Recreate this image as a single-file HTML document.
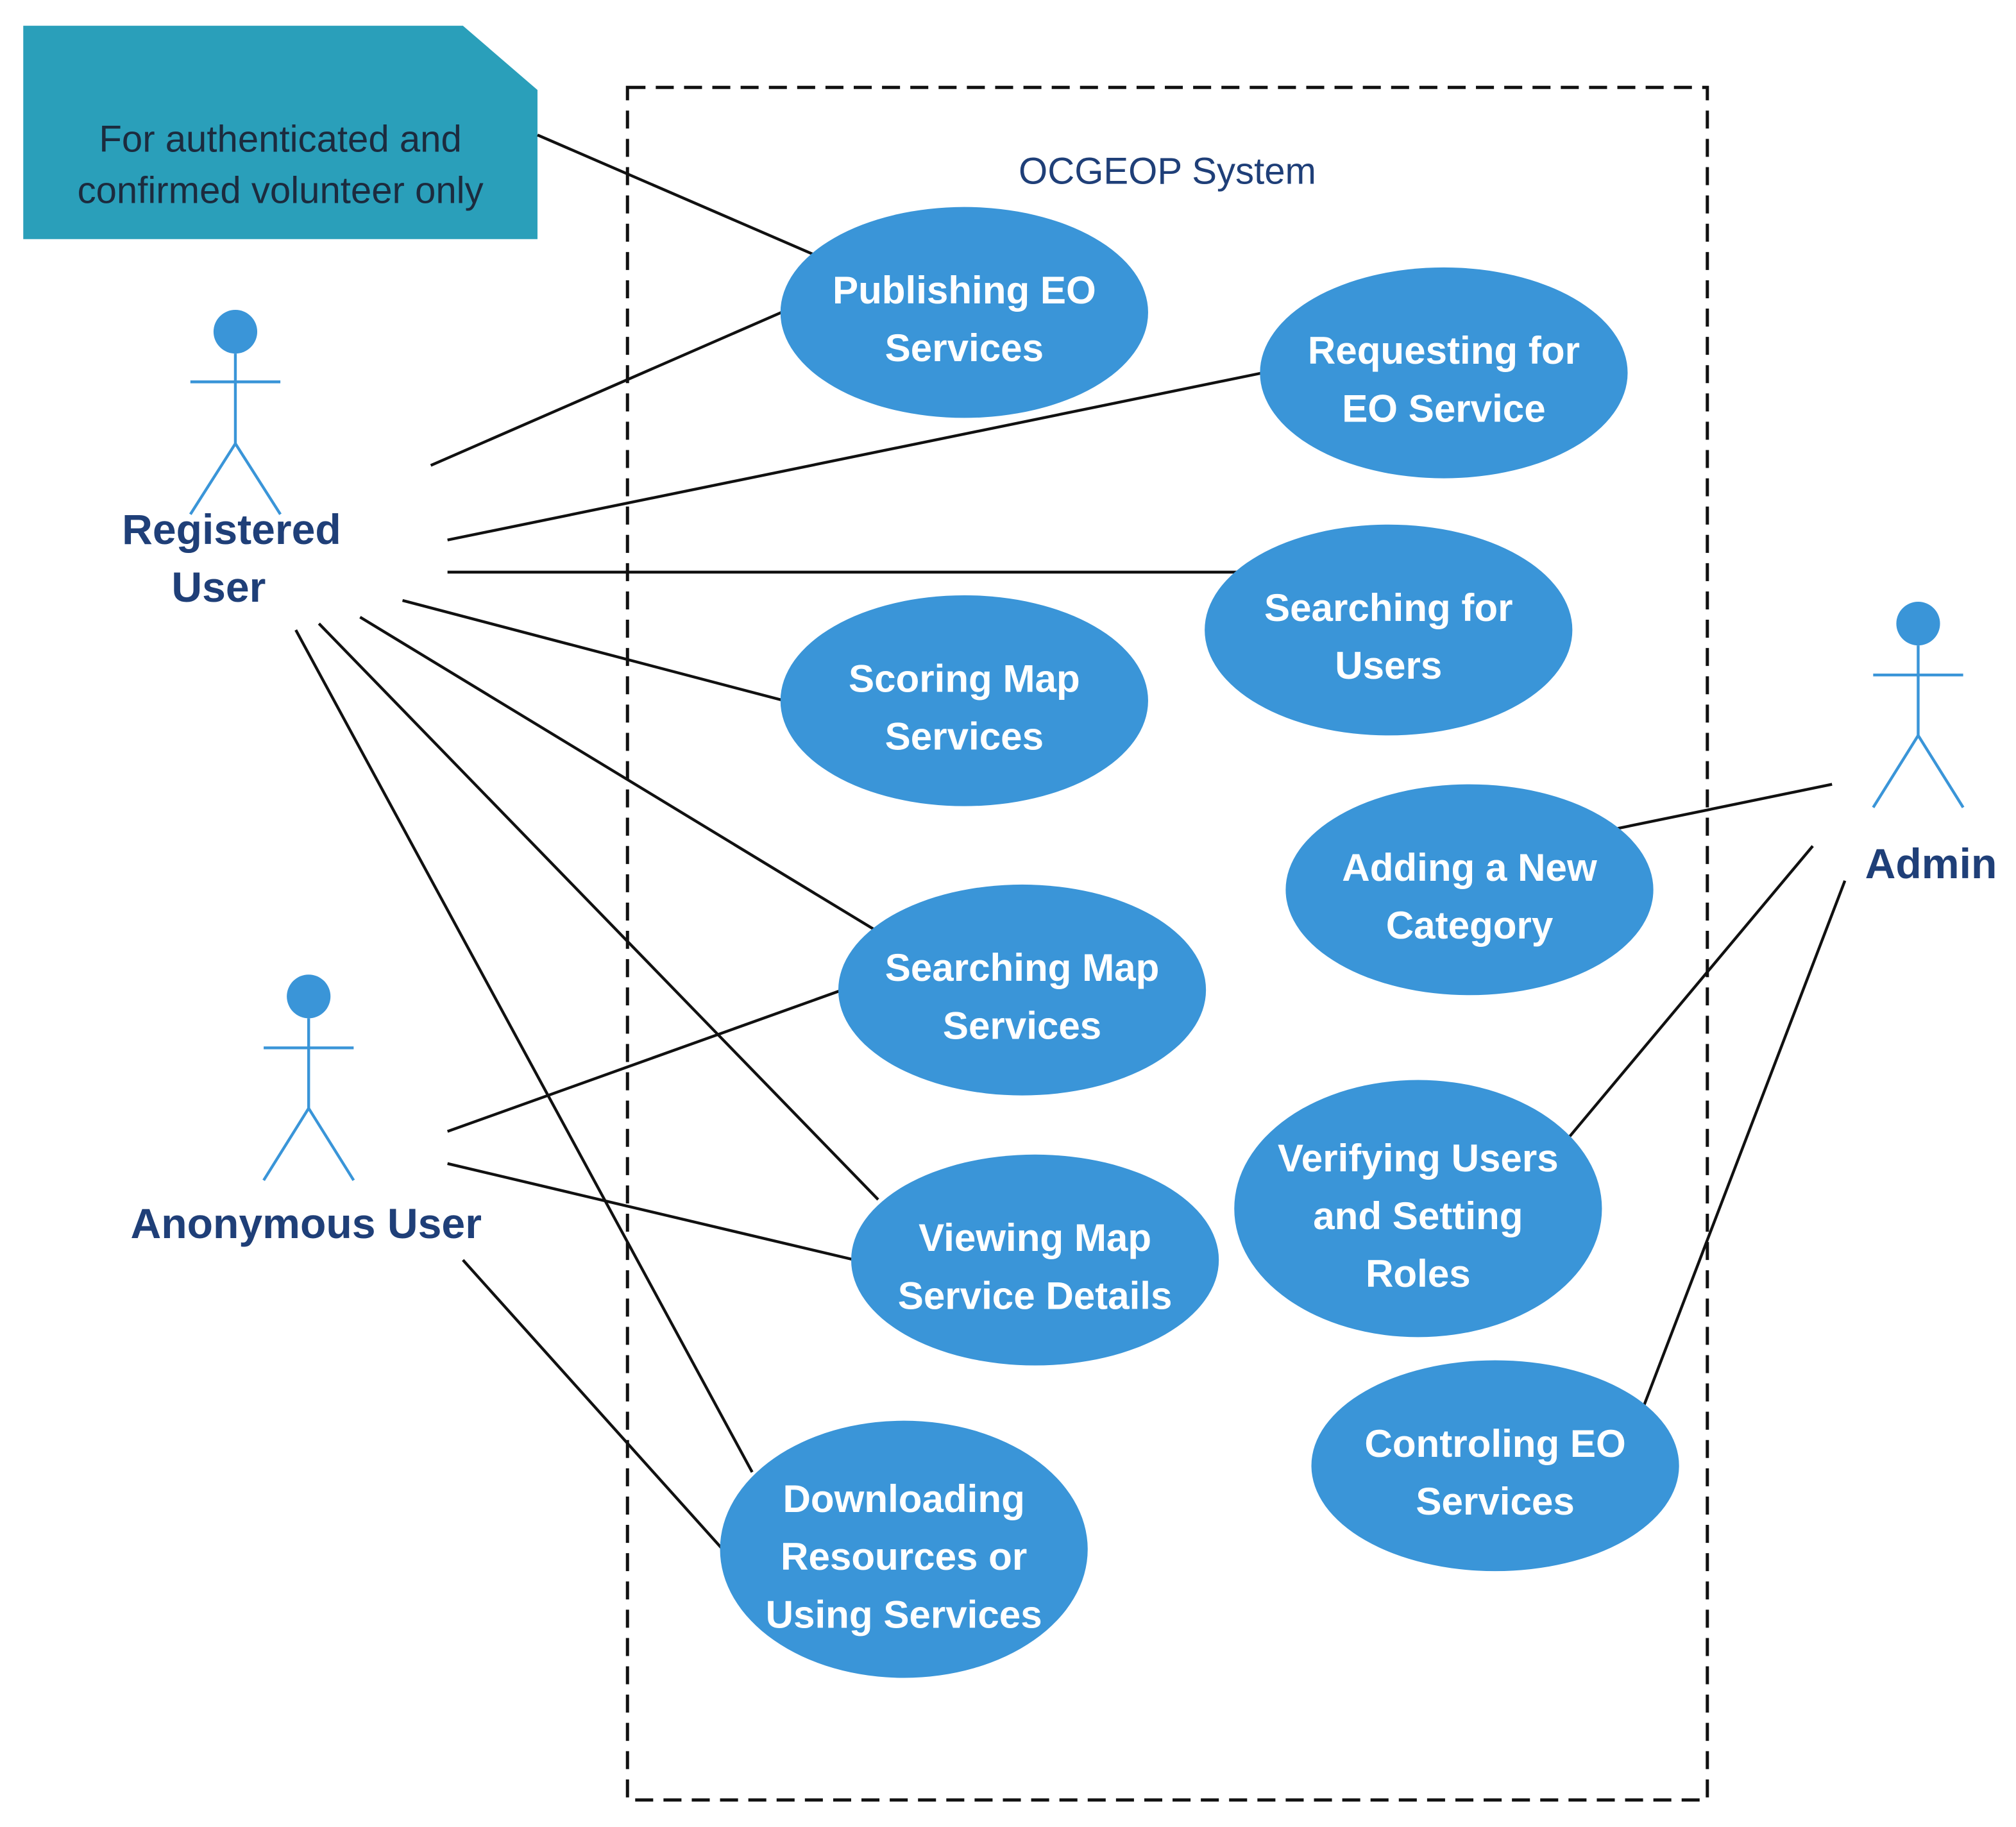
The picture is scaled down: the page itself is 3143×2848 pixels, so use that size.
<!DOCTYPE html>
<html><head><style>html,body{margin:0;padding:0;background:#fff;width:3143px;height:2848px;overflow:hidden}</style></head>
<body>
<svg width="3143" height="2848" viewBox="0 0 1568 1421" xmlns="http://www.w3.org/2000/svg">
<rect width="1568" height="1421" fill="#fff"/>
<polygon points="18,20 360,20 418,70 418,186 18,186" fill="#2a9fba"/>
<g font-family="Liberation Sans, sans-serif" font-size="29" fill="#1c2b3e" text-anchor="middle">
<text x="218" y="118">For authenticated and</text>
<text x="218" y="158">confirmed volunteer only</text>
</g>
<rect x="488" y="68" width="840" height="1332" fill="none" stroke="#111" stroke-width="2.5" stroke-dasharray="14,8"/>
<text x="908" y="143" font-family="Liberation Sans, sans-serif" font-size="29" fill="#1f3f78" text-anchor="middle">OCGEOP System</text>
<g stroke="#111" stroke-width="2.2">
<line x1="418" y1="105" x2="633" y2="198"/>
<line x1="335" y1="362" x2="610" y2="242"/>
<line x1="348" y1="420" x2="982" y2="290"/>
<line x1="348" y1="445" x2="965" y2="445"/>
<line x1="313" y1="467" x2="610" y2="545"/>
<line x1="280" y1="480" x2="680" y2="723"/>
<line x1="248" y1="485" x2="683" y2="933"/>
<line x1="230" y1="490" x2="585" y2="1145"/>
<line x1="348" y1="880" x2="655" y2="770"/>
<line x1="348" y1="905" x2="665" y2="980"/>
<line x1="360" y1="980" x2="562" y2="1205"/>
<line x1="1425" y1="610" x2="1255" y2="645"/>
<line x1="1410" y1="658" x2="1220" y2="885"/>
<line x1="1435" y1="685" x2="1278" y2="1095"/>
</g>
<g fill="#3a95d8">
<ellipse cx="750" cy="243" rx="143" ry="82"/>
<ellipse cx="1123" cy="290" rx="143" ry="82"/>
<ellipse cx="1080" cy="490" rx="143" ry="82"/>
<ellipse cx="750" cy="545" rx="143" ry="82"/>
<ellipse cx="1143" cy="692" rx="143" ry="82"/>
<ellipse cx="795" cy="770" rx="143" ry="82"/>
<ellipse cx="1103" cy="940" rx="143" ry="100"/>
<ellipse cx="805" cy="980" rx="143" ry="82"/>
<ellipse cx="1163" cy="1140" rx="143" ry="82"/>
<ellipse cx="703" cy="1205" rx="143" ry="100"/>
</g>
<g font-family="Liberation Sans, sans-serif" font-size="30" font-weight="bold" fill="#fff" text-anchor="middle">
<text x="750" y="236">Publishing EO</text><text x="750" y="281">Services</text>
<text x="1123" y="283">Requesting for</text><text x="1123" y="328">EO Service</text>
<text x="1080" y="483">Searching for</text><text x="1080" y="528">Users</text>
<text x="750" y="538">Scoring Map</text><text x="750" y="583">Services</text>
<text x="1143" y="685">Adding a New</text><text x="1143" y="730">Category</text>
<text x="795" y="763">Searching Map</text><text x="795" y="808">Services</text>
<text x="1103" y="911">Verifying Users</text><text x="1103" y="956">and Setting</text><text x="1103" y="1001">Roles</text>
<text x="805" y="973">Viewing Map</text><text x="805" y="1018">Service Details</text>
<text x="1163" y="1133">Controling EO</text><text x="1163" y="1178">Services</text>
<text x="703" y="1176">Downloading</text><text x="703" y="1221">Resources or</text><text x="703" y="1266">Using Services</text>
</g>
<g stroke="#3a95d8" stroke-width="2.2" fill="none">
<line x1="183" y1="275" x2="183" y2="345"/><line x1="148" y1="297" x2="218" y2="297"/>
<polyline points="148,400 183,345 218,400"/>
<line x1="240" y1="792" x2="240" y2="862"/><line x1="205" y1="815" x2="275" y2="815"/>
<polyline points="205,918 240,862 275,918"/>
<line x1="1492" y1="502" x2="1492" y2="572"/><line x1="1457" y1="525" x2="1527" y2="525"/>
<polyline points="1457,628 1492,572 1527,628"/>
</g>
<g fill="#3a95d8">
<circle cx="183" cy="258" r="17"/><circle cx="240" cy="775" r="17"/><circle cx="1492" cy="485" r="17"/>
</g>
<g font-family="Liberation Sans, sans-serif" font-size="33" font-weight="bold" fill="#1f3f78" text-anchor="middle">
<text x="180" y="423">Registered</text><text x="170" y="468">User</text>
<text x="238" y="963">Anonymous User</text>
<text x="1502" y="683">Admin</text>
</g>
</svg>
</body></html>
